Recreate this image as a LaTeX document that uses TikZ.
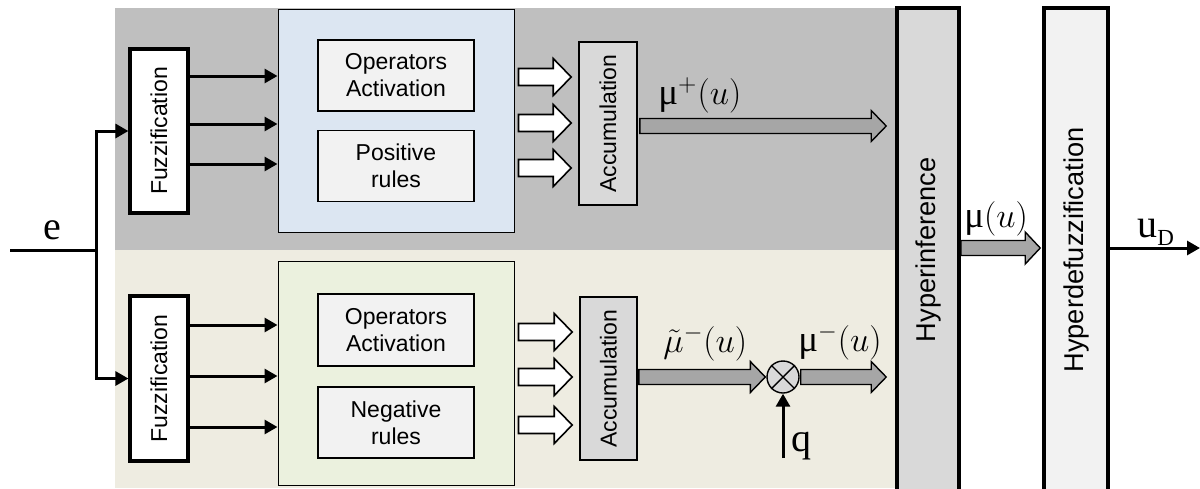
\documentclass[tikz,border=0pt]{standalone}
\usepackage{fontspec}
\setmainfont{Liberation Sans}
\newfontfamily\serifface{Liberation Serif}
\usetikzlibrary{arrows.meta,calc}

\definecolor{bandtop}{HTML}{BFBFBF}
\definecolor{bandbot}{HTML}{EEECE1}
\definecolor{bluefill}{HTML}{DCE6F2}
\definecolor{greenfill}{HTML}{EBF1DE}
\definecolor{innerfill}{HTML}{F2F2F2}
\definecolor{accfill}{HTML}{D9D9D9}
\definecolor{arrowgray}{HTML}{A6A6A6}

% block arrow: from, to, shaft half-height, head half-height, head length, style
\newcommand\blockarrow[6]{%
  \draw[#6] let \p1=(#1), \p2=(#2) in
    (\x1,\y1+#3) -- (\x2-#5,\y1+#3) -- (\x2-#5,\y1+#4) -- (\x2,\y1)
    -- (\x2-#5,\y1-#4) -- (\x2-#5,\y1-#3) -- (\x1,\y1-#3) -- cycle;}

\tikzset{
  sans/.style={font=\fontsize{11.5}{13.5}\selectfont},
  fuzzbox/.style={draw, line width=1.6pt, fill=white, minimum width=29pt,
    minimum height=82pt, inner sep=0pt, sans},
  rulearea/.style={draw, line width=0.5pt, minimum width=118pt,
    minimum height=112pt, inner sep=0pt},
  rulebox/.style={draw, line width=0.6pt, fill=innerfill, minimum width=78pt,
    minimum height=35.5pt, inner sep=0pt, align=center, sans},
  accbox/.style={draw, line width=0.8pt, fill=accfill, minimum width=29pt,
    minimum height=81.5pt, inner sep=0pt, sans},
  hyperbox/.style={draw, line width=1.8pt, minimum width=31pt,
    minimum height=242pt, inner sep=0pt, font=\fontsize{13.6}{15}\selectfont},
  sig/.style={line width=1.5pt, -{Triangle[length=6.5pt,width=7pt]}},
  lab/.style={inner sep=0pt, anchor=base west, font=\fontsize{18.5}{20}\selectfont},
  seriflab/.style={inner sep=0pt, font=\serifface\fontsize{20}{22}\selectfont},
  whiteblk/.style={draw, line width=0.8pt, fill=white},
  grayblk/.style={draw, line width=0.7pt, fill=arrowgray},
}

\begin{document}
\begin{tikzpicture}[x=0.5pt,y=-0.5pt]
\useasboundingbox (0,0) rectangle (1200,488);
\clip (0,0) rectangle (1200,488);

% background bands: positive branch (top) and negative branch (bottom)
\fill[bandtop] (115,8) rectangle (897,250);
\fill[bandbot] (115,250) rectangle (897,488);

% fuzzification blocks
\node[fuzzbox] (fz1) at (159,131) {\rotatebox{90}{Fuzzification}};
\node[fuzzbox, minimum height=82.5pt] (fz2) at (159,378.5) {\rotatebox{90}{Fuzzification}};

% rule bases
\node[rulearea, fill=bluefill, minimum height=111.5pt] (rb1) at (396,121) {};
\node[rulearea, fill=greenfill] (rb2) at (396,373) {};
\node[rulebox] (op1) at (396,75.5) {Operators\\Activation};
\node[rulebox] (pr) at (396,166) {Positive\\rules};
\node[rulebox, minimum height=36pt] (op2) at (396,330) {Operators\\Activation};
\node[rulebox] (nr) at (396,422.5) {Negative\\rules};

% accumulation blocks
\node[accbox] (ac1) at (608,123.5) {\rotatebox{90}{Accumulation}};
\node[accbox, minimum width=28.5pt] (ac2) at (608.5,378.5) {\rotatebox{90}{Accumulation}};

% hyperinference and hyperdefuzzification
\node[hyperbox, fill=accfill] (hi) at (928,250) {\rotatebox{90}{Hyperinference}};
\node[hyperbox, fill=innerfill, minimum width=32pt] (hd) at (1076,250) {\rotatebox{90}{Hyperdefuzzification}};

% product with the weight q
\node[draw, circle, line width=0.7pt, fill=accfill, minimum size=16pt, inner sep=0pt] (mul) at (783,377) {};
\draw[line width=0.7pt] (mul.45) -- (mul.225) (mul.135) -- (mul.315);

% input e split into both branches
\coordinate (ein) at (10,250);
\coordinate (split) at (96,250);
\draw[line width=1.5pt] (ein) -- (split);
\draw[sig] (split) |- (fz1.west);
\draw[sig] (split) |- (fz2.west);
\node[seriflab, anchor=base] (le) at (52,239) {e};

% fuzzified inputs
\foreach \yy in {76,124,164}
  \draw[sig] (fz1.east |- 0,\yy) -- (rb1.west |- 0,\yy);
\foreach \yy in {325,376,427}
  \draw[sig] (fz2.east |- 0,\yy) -- (rb2.west |- 0,\yy);

% rule outputs to accumulation
\foreach \yy in {77,123,168}
  \blockarrow{$(rb1.east|-0,\yy)+(4,0)$}{$(ac1.west|-0,\yy)+(-7,0)$}{4.25pt}{9.25pt}{9pt}{whiteblk};
\foreach \yy in {332,377,425}
  \blockarrow{$(rb2.east|-0,\yy)+(4,0)$}{$(ac2.west|-0,\yy)+(-7,0)$}{4.25pt}{9.25pt}{9pt}{whiteblk};

% membership functions
\blockarrow{$(ac1.east|-0,126)+(2,0)$}{$(hi.west|-0,126)+(-9,0)$}{3.75pt}{7.75pt}{7.5pt}{grayblk};
\node[lab] (lmp) at (658,104) {{\serifface μ}$^{+}(u)$};

\blockarrow{$(ac2.east|-0,377)+(1,0)$}{$(mul.west)+(-1,0)$}{3.75pt}{7.75pt}{7.5pt}{grayblk};
\node[lab] (lmt) at (663,352) {$\tilde{\mu}^{-}(u)$};

\blockarrow{$(mul.east)+(1,0)$}{$(hi.west|-0,377)+(-9,0)$}{3.75pt}{7.75pt}{7.5pt}{grayblk};
\node[lab] (lmm) at (798,351) {{\serifface μ}$^{-}(u)$};

\coordinate (qin) at (783,458);
\draw[sig] (qin) -- (mul.south);
\node[seriflab, anchor=base west] (lq) at (791,451) {q};

\blockarrow{$(hi.east|-0,248)+(0,0)$}{$(hd.west|-0,248)+(-2,0)$}{3.75pt}{8pt}{7.5pt}{grayblk};
\node[lab] (lmu) at (964,227) {{\serifface μ}$(u)$};

% crisp output
\coordinate (uout) at (1200,248);
\draw[sig] (hd.east|-0,248) -- (uout);
\node[seriflab, anchor=base west] (lu) at (1137,237)
  {u\raisebox{-4pt}{\fontsize{11.5}{12}\selectfont D}};
\end{tikzpicture}
\end{document}
